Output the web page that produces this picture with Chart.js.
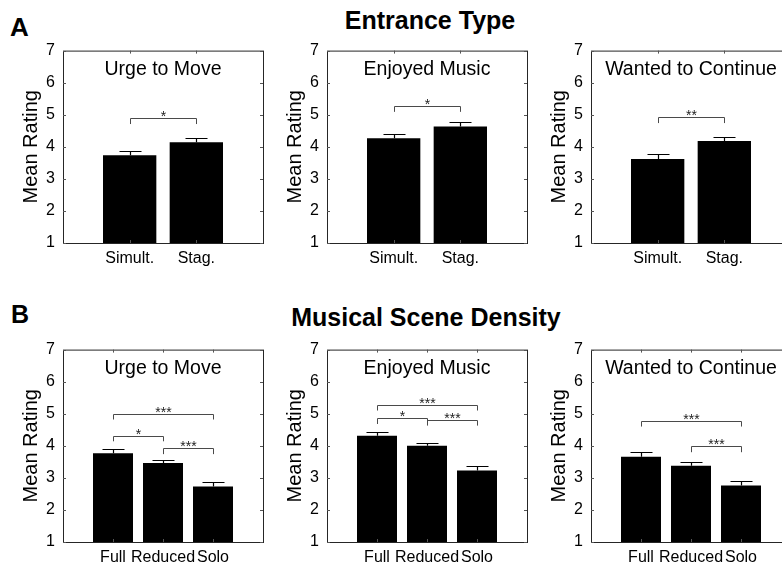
<!DOCTYPE html>
<html>
<head>
<meta charset="utf-8">
<script src="https://cdn.jsdelivr.net/npm/chart.js@4.4.1/dist/chart.umd.min.js"></script>
<style>
html, body { margin: 0; padding: 0; background: #fff; width: 782px; height: 569px; overflow: hidden; position: relative; font-family: "Liberation Sans", Arial, Helvetica, sans-serif; }
canvas { position: absolute; }
.lbl { position: absolute; font-weight: bold; color: #000; white-space: nowrap; line-height: 1; }
</style>
</head>
<body>
<div class="lbl" style="left:10px; top:14px; font-size:26px;">A</div>
<div class="lbl" style="left:11px; top:302px; font-size:25px;">B</div>
<div class="lbl" style="left:430px; top:8px; font-size:25px; transform:translateX(-50%);">Entrance Type</div>
<div class="lbl" style="left:426px; top:305px; font-size:25px; transform:translateX(-50%);">Musical Scene Density</div>

<canvas id="a1" width="270" height="240"></canvas>
<canvas id="a2" width="270" height="240"></canvas>
<canvas id="a3" width="270" height="240"></canvas>
<canvas id="b1" width="270" height="240"></canvas>
<canvas id="b2" width="270" height="240"></canvas>
<canvas id="b3" width="270" height="240"></canvas>

<script>
// ---------------- data ----------------
const entranceCategories = ['Simult.', 'Stag.'];
const densityCategories = ['Full', 'Reduced', 'Solo'];
const panelTitles = ['Urge to Move', 'Enjoyed Music', 'Wanted to Continue'];
const yAxisLabel = 'Mean Rating';
const yMin = 1;
const yMax = 7;

const entranceUrgeMeans = [3.74, 4.14];
const entranceUrgeErrors = [0.14, 0.15];
const entranceEnjoyMeans = [4.27, 4.63];
const entranceEnjoyErrors = [0.14, 0.14];
const entranceContinueMeans = [3.62, 4.18];
const entranceContinueErrors = [0.14, 0.14];

const densityUrgeMeans = [3.77, 3.46, 2.73];
const densityUrgeErrors = [0.14, 0.10, 0.13];
const densityEnjoyMeans = [4.31, 4.00, 3.23];
const densityEnjoyErrors = [0.13, 0.10, 0.13];
const densityContinueMeans = [3.66, 3.38, 2.76];
const densityContinueErrors = [0.15, 0.10, 0.13];

// significance brackets: [from index, to index, bracket level, stars]
const entranceUrgeBrackets = [[0, 1, 4.89, '*']];
const entranceEnjoyBrackets = [[0, 1, 5.27, '*']];
const entranceContinueBrackets = [[0, 1, 4.92, '**']];
const densityUrgeBrackets = [[0, 2, 5.00, '***'], [0, 1, 4.32, '*'], [1, 2, 3.92, '***']];
const densityEnjoyBrackets = [[0, 2, 5.28, '***'], [0, 1, 4.86, '*'], [1, 2, 4.81, '***']];
const densityContinueBrackets = [[0, 2, 4.78, '***'], [1, 2, 3.98, '***']];

// ---------------- style / layout ----------------
const FONT = '"Liberation Sans", Arial, Helvetica, sans-serif';
Chart.defaults.font.family = FONT;
const AXIS_W = 60, PAD_TOP = 10, PAD_RIGHT = 10, XAXIS_H = 30;
const LEG = 0.18;

function decorPlugin(title, means, errs, brackets) {
  return {
    id: 'decor',
    afterDatasetsDraw(chart) {
      const ctx = chart.ctx;
      const xs = chart.scales.x, ys = chart.scales.y;
      const ca = chart.chartArea;
      ctx.save();
      // error bars
      ctx.strokeStyle = '#000';
      ctx.lineWidth = 1.2;
      means.forEach((m, i) => {
        const x = Math.round(xs.getPixelForValue(i + 1)) + 0.5;
        const y0 = ys.getPixelForValue(m);
        const y1 = Math.round(ys.getPixelForValue(m + errs[i])) + 0.5;
        ctx.beginPath();
        ctx.moveTo(x, y0); ctx.lineTo(x, y1);
        ctx.moveTo(x - 11, y1); ctx.lineTo(x + 11, y1);
        ctx.stroke();
      });
      // brackets
      ctx.strokeStyle = '#4a4a4a';
      ctx.lineWidth = 1;
      ctx.fillStyle = '#222';
      ctx.font = '14px ' + FONT;
      ctx.textAlign = 'center';
      ctx.textBaseline = 'alphabetic';
      brackets.forEach(([a, b, lvl, lab]) => {
        const xa = Math.round(xs.getPixelForValue(a + 1)) + 0.5;
        const xb = Math.round(xs.getPixelForValue(b + 1)) + 0.5;
        const yb = Math.round(ys.getPixelForValue(lvl)) + 0.5;
        const yl = ys.getPixelForValue(lvl - LEG);
        ctx.beginPath();
        ctx.moveTo(xa, yl); ctx.lineTo(xa, yb); ctx.lineTo(xb, yb); ctx.lineTo(xb, yl);
        ctx.stroke();
        ctx.fillText(lab, (xa + xb) / 2, yb + 2);
      });
      // axes box
      ctx.strokeStyle = '#262626';
      ctx.lineWidth = 1;
      ctx.strokeRect(ca.left + 0.5, ca.top + 0.5, ca.right - ca.left, ca.bottom - ca.top);
      // inward ticks
      ctx.strokeStyle = '#555';
      ctx.beginPath();
      ys.ticks.forEach(t => {
        const y = Math.round(ys.getPixelForValue(t.value)) + 0.5;
        ctx.moveTo(ca.left, y); ctx.lineTo(ca.left + 3, y);
        ctx.moveTo(ca.right, y); ctx.lineTo(ca.right - 3, y);
      });
      means.forEach((m, i) => {
        const x = Math.round(xs.getPixelForValue(i + 1)) + 0.5;
        ctx.moveTo(x, ca.bottom); ctx.lineTo(x, ca.bottom - 3);
        ctx.moveTo(x, ca.top); ctx.lineTo(x, ca.top + 3);
      });
      ctx.stroke();
      // panel title inside axes
      ctx.fillStyle = '#000';
      ctx.font = '19.5px ' + FONT;
      ctx.textAlign = 'center';
      ctx.textBaseline = 'alphabetic';
      ctx.fillText(title, (ca.left + ca.right) / 2, ca.top + 24.5);
      ctx.restore();
    }
  };
}

function makePanel(id, plotLeft, plotTop, cats, means, errs, brackets, title) {
  const cv = document.getElementById(id);
  cv.style.left = (plotLeft - AXIS_W) + 'px';
  cv.style.top = (plotTop - PAD_TOP) + 'px';
  new Chart(cv, {
    type: 'bar',
    data: {
      datasets: [{
        data: means.map((m, i) => ({ x: i + 1, y: m })),
        backgroundColor: '#000',
        borderWidth: 0,
        barPercentage: 0.8,
        categoryPercentage: 1
      }]
    },
    options: {
      responsive: false,
      animation: false,
      devicePixelRatio: 1,
      layout: { padding: { left: 0, top: PAD_TOP, right: PAD_RIGHT, bottom: 0 } },
      plugins: { legend: { display: false }, tooltip: { enabled: false } },
      scales: {
        x: {
          type: 'linear',
          offset: false,
          min: 0,
          max: cats.length + 1,
          grid: { display: false, drawTicks: false, offset: false },
          border: { display: false },
          ticks: {
            stepSize: 1,
            autoSkip: false,
            maxRotation: 0,
            minRotation: 0,
            padding: 6,
            color: '#000',
            font: { size: 16 },
            callback: v => (cats[v - 1] !== undefined ? cats[v - 1] : '')
          },
          afterFit: s => { s.height = XAXIS_H; }
        },
        y: {
          type: 'linear',
          min: yMin,
          max: yMax,
          grid: { display: false, drawTicks: false },
          border: { display: false },
          ticks: { stepSize: 1, padding: 8, color: '#000', font: { size: 16 } },
          title: { display: true, text: yAxisLabel, color: '#000', font: { size: 20 }, padding: { top: 16, bottom: 0 } },
          afterFit: s => { s.width = AXIS_W; }
        }
      }
    },
    plugins: [decorPlugin(title, means, errs, brackets)]
  });
}

const colLefts = [63, 327, 591];
const rowTops = [43, 342];

makePanel('a1', colLefts[0], rowTops[0], entranceCategories, entranceUrgeMeans, entranceUrgeErrors, entranceUrgeBrackets, panelTitles[0]);
makePanel('a2', colLefts[1], rowTops[0], entranceCategories, entranceEnjoyMeans, entranceEnjoyErrors, entranceEnjoyBrackets, panelTitles[1]);
makePanel('a3', colLefts[2], rowTops[0], entranceCategories, entranceContinueMeans, entranceContinueErrors, entranceContinueBrackets, panelTitles[2]);
makePanel('b1', colLefts[0], rowTops[1], densityCategories, densityUrgeMeans, densityUrgeErrors, densityUrgeBrackets, panelTitles[0]);
makePanel('b2', colLefts[1], rowTops[1], densityCategories, densityEnjoyMeans, densityEnjoyErrors, densityEnjoyBrackets, panelTitles[1]);
makePanel('b3', colLefts[2], rowTops[1], densityCategories, densityContinueMeans, densityContinueErrors, densityContinueBrackets, panelTitles[2]);
</script>
</body>
</html>
